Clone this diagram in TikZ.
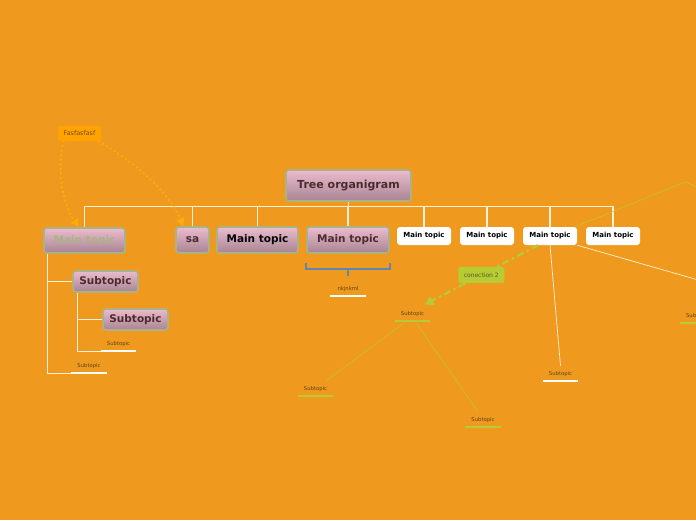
\documentclass[tikz,border=0pt]{standalone}
\usepackage{fontspec}
\setmainfont{DejaVu Sans}
\usetikzlibrary{positioning,arrows.meta,calc}
\definecolor{obg}{HTML}{EF9A1E}
\definecolor{opinktop}{HTML}{EBBCCE}
\definecolor{opinkbot}{HTML}{A88492}
\definecolor{oboxline}{HTML}{A9B386}
\definecolor{otopictext}{HTML}{4B2B2E}
\definecolor{osubtext}{HTML}{5C4418}
\definecolor{ofasfill}{HTML}{FFA300}
\definecolor{ofastext}{HTML}{7A4A14}
\definecolor{oarrow}{HTML}{FFAA0C}
\definecolor{ogreen}{HTML}{B6CB34}
\definecolor{oconntext}{HTML}{5A5A2A}
\definecolor{otreeline}{HTML}{FFF0DA}
\definecolor{obracket}{HTML}{5F86AE}
\tikzset{obox/.style={rectangle, rounded corners=3pt, draw=oboxline, line width=1.6pt, top color=opinktop, bottom color=opinkbot, align=center, inner sep=0pt}}
\tikzset{oroot/.style={obox, minimum width=125pt, minimum height=31pt, font=\fontsize{11}{13}\selectfont\bfseries, text=otopictext}}
\tikzset{otopic/.style={obox, minimum width=81pt, minimum height=25pt, font=\fontsize{10.5}{12}\selectfont\bfseries, text=otopictext}}
\tikzset{owhite/.style={rectangle, rounded corners=3pt, fill=white, minimum width=54pt, minimum height=18pt, inner sep=0pt, font=\fontsize{7}{8}\selectfont\bfseries}}
\tikzset{osub/.style={obox, minimum width=65pt, minimum height=21pt, font=\fontsize{10.5}{12}\selectfont\bfseries, text=otopictext}}
\tikzset{olabel/.style={minimum width=35pt, inner xsep=0pt, inner ysep=4pt, font=\fontsize{5.3}{6}\selectfont, text=osubtext}}
\tikzset{ofloat/.style={rectangle, rounded corners=2pt, fill=ofasfill, minimum width=43pt, minimum height=15pt, inner sep=0pt, font=\fontsize{6.4}{7}\selectfont, text=ofastext}}
\tikzset{oconn/.style={rectangle, rounded corners=2pt, fill=ogreen, minimum width=46pt, minimum height=16pt, inner sep=0pt, font=\fontsize{6}{7}\selectfont, text=oconntext}}
\tikzset{otree/.style={draw=otreeline, line width=1.2pt}}
\tikzset{owline/.style={draw=white, line width=2.2pt}}
\tikzset{ogline/.style={draw=ogreen, line width=2.4pt}}
\tikzset{othin/.style={draw=ogreen, line width=0.5pt}}
\tikzset{opeach/.style={draw=otreeline, line width=0.7pt}}
\tikzset{odots/.style={draw=oarrow, line width=2.2pt, line cap=round, dash pattern=on 0.6pt off 4pt, -{Triangle[length=8pt,width=8pt]}}}
\tikzset{ogdash/.style={draw=ogreen, line width=2.2pt, dash pattern=on 7pt off 3.5pt on 2.5pt off 3.5pt, -{Triangle[length=9pt,width=9pt]}}}
\tikzset{obrack/.style={draw=obracket, line width=1.5pt}}

\begin{document}
\begin{tikzpicture}[x=1pt,y=-1pt]
  \useasboundingbox (0,0) rectangle (696,520);
  \fill[obg] (0,0) rectangle (696,520);

  \node[oroot] (root) at (348.5,185.5) {Tree organigram};

  \node[otopic, text=oboxline] (mt1) at (84.5,240.5) {Main topic};
  \node[otopic, minimum width=33pt, minimum height=26pt] (mt2) at (192.5,240) {sa};
  \node[otopic, minimum height=26pt, text=black] (mt3) at (257.5,240) {Main topic};
  \node[otopic, minimum width=82pt, minimum height=26pt] (mt4) at (348,240) {Main topic};
  \node[owhite] (mt5) at (424,236) {Main topic};
  \node[owhite] (mt6) at (487,236) {Main topic};
  \node[owhite] (mt7) at (550,236) {Main topic};
  \node[owhite] (mt8) at (613,236) {Main topic};

  \foreach \i in {1,...,8}
    \draw[otree] (root.south) -- ++(0,5) -| (mt\i.north);

  \node[ofloat] (fas) at (79.5,133.5) {Fasfasfasf};
  \draw[odots] ([xshift=-16pt]fas.south) .. controls (56,175) and (64,205) .. ([xshift=-6pt]mt1.north);
  \draw[odots] ([xshift=19pt]fas.south) .. controls (140,165) and (170,195) .. ([xshift=-9pt]mt2.north);

  \node[osub] (sub1) at (105.5,281.5) {Subtopic};
  \node[osub] (sub2) at (135.5,319.5) {Subtopic};
  \node[olabel] (s3) at (118.5,344.5) {Subtopic};
  \node[olabel] (s4) at (89,366.5) {Subtopic};
  \draw[owline] (s3.south west) -- (s3.south east);
  \draw[owline] (s4.south west) -- (s4.south east);
  \draw[otree] ([xshift=4pt]mt1.south west) |- (sub1.west);
  \draw[otree] ([xshift=4pt]mt1.south west) |- (s4.south west);
  \draw[otree] ([xshift=5pt]sub1.south west) |- (sub2.west);
  \draw[otree] ([xshift=5pt]sub1.south west) |- (s3.south west);

  \draw[obrack] ($(mt4.south west)+(0,9)$) -- ++(0,6) -| ($(mt4.south east)+(0,9)$);
  \draw[obrack] ($(mt4.south)+(0,15)$) -- ++(0,7);
  \node[olabel] (nk) at (348,289.5) {nkjnkml};
  \draw[owline] (nk.south west) -- (nk.south east);

  \node[olabel] (gsub) at (412.5,314.5) {Subtopic};
  \node[olabel] (gsubL) at (315.5,389.5) {Subtopic};
  \node[olabel] (gsubR) at (483,420.5) {Subtopic};
  \node[olabel] (wsub) at (560.5,374.5) {Subtopic};
  \node[olabel, anchor=west] (rsub) at (680,316.5) {Subtopic};
  \draw[ogline] (gsub.south west) -- (gsub.south east);
  \draw[ogline] (gsubL.south west) -- (gsubL.south east);
  \draw[ogline] (gsubR.south west) -- (gsubR.south east);
  \draw[ogline] (rsub.south west) -- (rsub.south east);
  \draw[owline] (wsub.south west) -- (wsub.south east);

  \draw[othin] ($(gsub.south)+(-9,2)$) -- ($(gsubL.north east)+(-7,-2)$);
  \draw[othin] ($(gsub.south)+(4,2)$) -- ($(gsubR.north)+(-5,-2)$);

  \coordinate (gbend) at (685,182);
  \coordinate (gcut) at (720,196);
  \coordinate (rcut) at (740,292);
  \draw[othin] ([xshift=-2pt]mt7.north east) -- (gbend) -- (gcut);
  \draw[opeach] (mt7.south east) -- (rcut);
  \draw[opeach] (mt7.south) -- ($(wsub.north)+(0,-2)$);
  \draw[ogdash] ([xshift=-12pt]mt7.south) -- node[oconn] (conn) {conection 2} ($(gsub.north)+(12,-3)$);
\end{tikzpicture}
\end{document}
